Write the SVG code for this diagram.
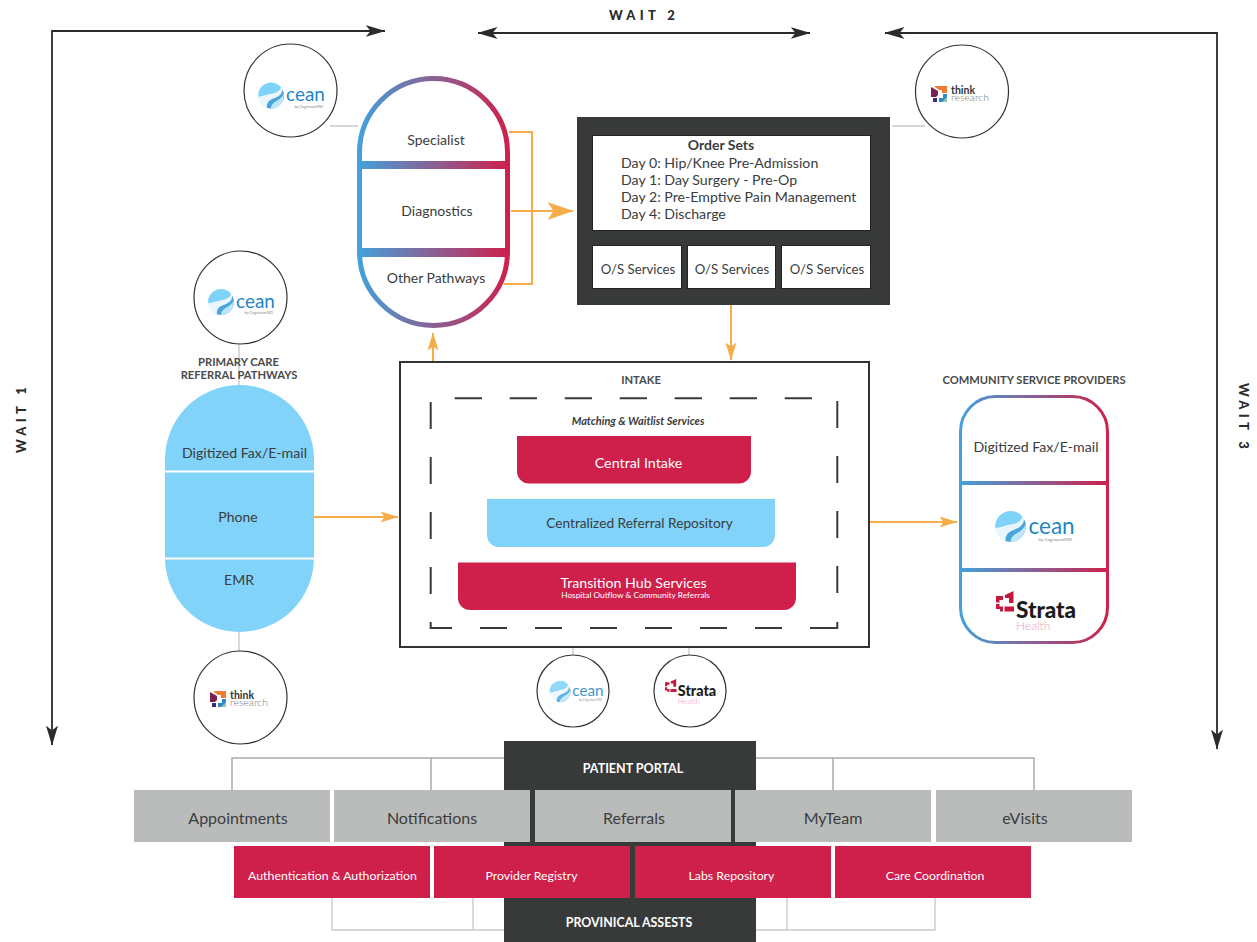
<svg xmlns="http://www.w3.org/2000/svg" xmlns:xlink="http://www.w3.org/1999/xlink" width="1257" height="942" viewBox="0 0 1257 942">
<style>
text{font-family:Lato,"Noto Sans","Liberation Sans",sans-serif;fill:#3a3c3d}
.m{text-anchor:middle}
.w{fill:#fff}
.b{font-weight:700}
.wt{font-weight:900;font-size:13px;letter-spacing:4.3px;fill:#2b2b2b}
.ho{font-weight:700;fill:#4a4a4a;font-size:11.2px}
.ring{fill:#fff;stroke:#333;stroke-width:1.2}
.or{fill:none;stroke:#f6ad47;stroke-width:2}
.blk{fill:none;stroke:#2b2b2b;stroke-width:1.8}
.gl{fill:none;stroke:#c9cbca;stroke-width:1.4}
.gd{fill:none;stroke:#a9abaa;stroke-width:1.5}
.dash{fill:none;stroke:#3a3a3a;stroke-width:2}
.svc{fill:#fff;stroke:#222;stroke-width:1}
.gray{fill:#babcbb}
.red{fill:#cf1f4b}
.dark{fill:#383a3a}
.sky{fill:#81d3f9}
</style>
<defs>
<linearGradient id="g1" gradientUnits="userSpaceOnUse" x1="357" y1="0" x2="510" y2="0"><stop offset="0" stop-color="#42a2dc"/><stop offset="1" stop-color="#d01f4b"/></linearGradient>
<linearGradient id="g2" gradientUnits="userSpaceOnUse" x1="959" y1="0" x2="1109" y2="0"><stop offset="0" stop-color="#42a2dc"/><stop offset="1" stop-color="#d01f4b"/></linearGradient>
<marker id="ao" viewBox="0 0 18 11" refX="17.5" refY="5.5" markerWidth="18" markerHeight="11" markerUnits="userSpaceOnUse" orient="auto"><path d="M0 0L18 5.500L0 11L4 5.500Z" fill="#f6ad47"/></marker>
<marker id="aob" viewBox="0 0 26 18" refX="25.5" refY="9" markerWidth="26" markerHeight="18" markerUnits="userSpaceOnUse" orient="auto"><path d="M0 0L26 9L0 18L6 9Z" fill="#f6ad47"/></marker>
<marker id="ak" viewBox="0 0 20 12" refX="19.5" refY="6" markerWidth="20" markerHeight="12" markerUnits="userSpaceOnUse" orient="auto"><path d="M0 0L20 6L0 12L5 6Z" fill="#2b2b2b"/></marker>
<marker id="aks" viewBox="0 0 20 12" refX="0.5" refY="6" markerWidth="20" markerHeight="12" markerUnits="userSpaceOnUse" orient="auto"><path d="M20 0L0 6L20 12L15 6Z" fill="#2b2b2b"/></marker>
<g id="ocean">
<circle r="15.5" fill="#eaf6fd"/>
<path d="M-15.4 1A15.5 15.5 0 0 1 12 -9.8C10 -4 5 -3 0 -2C-6 -1 -11 2 -15.4 1Z" fill="#7fd3f8"/>
<path d="M13.500 -7.500C13 0 7 2 2 4C-3 6 -5 9 -5 14.600A15.5 15.5 0 0 0 13.500 -7.500Z" fill="#4aa5dc"/>
<path d="M15 -3C14 4 6 6 3 9C1 11 0 13 0 15.500A15.5 15.5 0 0 0 15 -3Z" fill="#bde6fa"/>
<text x="18" y="7" font-size="22.500" style="fill:#1f86c6">cean</text>
<text x="28" y="14.500" font-size="4.600" style="fill:#888">by CognisantMD</text>
</g>
<g id="think">
<path d="M0 1L7 5V9L5 11H0Z" fill="#7a2255"/>
<path d="M3 0H16V7L11 7V4H8Z" fill="#ee7b30"/>
<path d="M16 8V16H8V12H12V8Z" fill="#2f89c9"/>
<path d="M2 12H6V16H2Z" fill="#3a2a7a"/>
<path d="M11 16H16V11Z" fill="#8fc7a8"/>
<text x="20" y="7.500" font-size="10.500" font-weight="700" style="fill:#333">think</text>
<text x="20" y="14.700" font-size="10.500" font-weight="300" style="fill:#77797a">research</text>
</g>
<g id="strata">
<path d="M9 4L17.500 0V12H13V7H9ZM0 5H7V9H3.500V11.500H0ZM0 13H3.500V15.500H7V20.500H4V18H0ZM8.500 15.500H18V20.500H8.500Z" fill="#c4183f"/>
<text x="20" y="27" font-size="22.500" font-weight="900" style="fill:#1c1c1c">Strata</text>
<text x="20" y="39" font-size="12" font-weight="300" style="fill:#ef9bb8">Health</text>
</g>
</defs>

<g id="connectors">
<path class="blk" d="M385 31H52V745" marker-end="url(#ak)"/>
<path class="blk" d="M365 31H385" marker-end="url(#ak)"/>
<path class="blk" d="M478 33H810" marker-start="url(#aks)" marker-end="url(#ak)"/>
<path class="blk" d="M885 33H1217V749" marker-end="url(#ak)"/>
<path class="blk" d="M905 33H885" marker-end="url(#ak)"/>
<path class="gl" d="M330 126H358M892 126H925M239 344V386M239 632V651M573 648V655M689 648V656"/>
<path class="or" d="M509 132H532V284H504"/>
<path class="or" d="M511 211H573" marker-end="url(#aob)"/>
<path class="or" d="M731 305V360" marker-end="url(#ao)"/>
<path class="or" d="M433 361V333" marker-end="url(#ao)"/>
<path class="or" d="M314 517H398" marker-end="url(#ao)"/>
<path class="or" d="M870 522H957" marker-end="url(#ao)"/>
<path class="gd" d="M232 790V758H504M431 758V790M756 758H1034V790M833 758V790"/>
<path class="gl" d="M332 898V930H504M473 898V930M756 930H935V898M787 898V930"/>
</g>

<g id="wait-labels">
<text x="644" y="20" class="m wt">WAIT 2</text>
<text transform="translate(26 418) rotate(-90)" class="m wt">WAIT 1</text>
<text transform="translate(1239 418) rotate(90)" class="m wt">WAIT 3</text>
</g>

<g id="logo-ocean-top"><circle class="ring" cx="290.500" cy="90.500" r="46.500"/><use xlink:href="#ocean" href="#ocean" transform="translate(271 95.500) scale(.84)"/></g>
<g id="logo-think-top"><circle class="ring" cx="962" cy="91.500" r="46.500"/><use xlink:href="#think" href="#think" transform="translate(931 86)"/></g>
<g id="logo-ocean-primary"><circle class="ring" cx="240.500" cy="297.500" r="46.500"/><use xlink:href="#ocean" href="#ocean" transform="translate(221 302) scale(.84)"/></g>
<g id="logo-think-primary"><circle class="ring" cx="240.500" cy="697.500" r="46.500"/><use xlink:href="#think" href="#think" transform="translate(210 691)"/></g>
<g id="logo-ocean-intake"><circle class="ring" cx="573" cy="691" r="36"/><use xlink:href="#ocean" href="#ocean" opacity=".85" transform="translate(560 691.500) scale(.68)"/></g>
<g id="logo-strata-intake"><circle class="ring" cx="690" cy="691" r="36"/><use xlink:href="#strata" href="#strata" transform="translate(665 679) scale(.64)"/></g>

<g id="pathways">
<rect x="359.500" y="78.500" width="148" height="247" rx="74" fill="#fff" stroke="url(#g1)" stroke-width="5"/>
<rect x="360" y="161" width="148" height="8" fill="url(#g1)"/>
<rect x="360" y="248" width="148" height="9" fill="url(#g1)"/>
<text x="436" y="145" class="m" font-size="14">Specialist</text>
<text x="437" y="216" class="m" font-size="14">Diagnostics</text>
<text x="436" y="283" class="m" font-size="14">Other Pathways</text>
</g>

<g id="order-sets">
<rect class="dark" x="577" y="117" width="313" height="188"/>
<rect class="svc" x="592.500" y="135.500" width="278" height="95"/>
<text x="721" y="150" class="m b" font-size="14">Order Sets</text>
<text x="621" y="168" font-size="14.150">Day 0: Hip/Knee Pre-Admission</text>
<text x="621" y="185" font-size="14.150">Day 1: Day Surgery - Pre-Op</text>
<text x="621" y="202" font-size="14.150">Day 2: Pre-Emptive Pain Management</text>
<text x="621" y="219" font-size="14.150">Day 4: Discharge</text>
<rect class="svc" x="592.500" y="245.500" width="89" height="43"/>
<rect class="svc" x="687.500" y="245.500" width="88" height="43"/>
<rect class="svc" x="781.500" y="245.500" width="89" height="43"/>
<text x="638" y="274" class="m" font-size="13.200">O/S Services</text>
<text x="732" y="274" class="m" font-size="13.200">O/S Services</text>
<text x="827" y="274" class="m" font-size="13.200">O/S Services</text>
</g>

<g id="primary-care">
<text x="238.500" y="366" class="m ho">PRIMARY CARE</text>
<text x="239" y="379" class="m ho">REFERRAL PATHWAYS</text>
<path class="sky" d="M165 459.500A74.500 74.500 0 0 1 314 459.500V470.500H165Z"/>
<rect class="sky" x="165" y="472.500" width="149" height="85"/>
<path class="sky" d="M165 559.500H314V557.500A74.500 74.500 0 0 1 165 557.500Z"/>
<text x="244.500" y="458" class="m" font-size="14.150">Digitized Fax/E-mail</text>
<text x="238" y="522" class="m" font-size="14">Phone</text>
<text x="239" y="585" class="m" font-size="14">EMR</text>
</g>

<g id="intake">
<rect x="400" y="362" width="469" height="285" fill="#fff" stroke="#333" stroke-width="2"/>
<text x="641" y="384" class="m ho">INTAKE</text>
<path class="dash" d="M454.700 398.300H482M509.700 398.300H537M564.700 398.300H592M619.700 398.300H647M674.700 398.300H702M729.700 398.300H757M784.700 398.300H812M430.700 402V429M430.700 457V484M430.700 512V539M430.700 567V594M837.300 401V428M837.300 456V483M837.300 511V538M837.300 566V593M430.700 622V628H452M480 628H507M535 628H562M590 628H617M645 628H672M700 628H727M755 628H782M810 628H837.300V622"/>
<text x="638" y="425" class="m" font-size="11" font-style="italic" font-weight="700">Matching &amp; Waitlist Services</text>
<path class="red" d="M517 436H751V471.500A12 12 0 0 1 739 483.500H529A12 12 0 0 1 517 471.500Z"/>
<text x="638.500" y="468" class="m w" font-size="14.300">Central Intake</text>
<path class="sky" d="M487 499H775V535A12 12 0 0 1 763 547H499A12 12 0 0 1 487 535Z"/>
<text x="639.500" y="528" class="m" font-size="13.700">Centralized Referral Repository</text>
<path class="red" d="M458 562.500H796V598A12 12 0 0 1 784 610H470A12 12 0 0 1 458 598Z"/>
<text x="633.500" y="588" class="m w" font-size="14.200">Transition Hub Services</text>
<text x="635.500" y="598" class="m w" font-size="8.300">Hospital Outflow &amp; Community Referrals</text>
</g>

<g id="community">
<text x="1034" y="384" class="m ho">COMMUNITY SERVICE PROVIDERS</text>
<rect x="960.500" y="396.500" width="147" height="246" rx="35" fill="#fff" stroke="url(#g2)" stroke-width="3"/>
<rect x="960" y="481" width="148" height="4" fill="url(#g2)"/>
<rect x="960" y="568" width="148" height="4" fill="url(#g2)"/>
<text x="1036" y="452" class="m" font-size="14.150">Digitized Fax/E-mail</text>
<use xlink:href="#ocean" href="#ocean" transform="translate(1010.500 526.500)"/>
<use xlink:href="#strata" href="#strata" transform="translate(996 591)"/>
</g>

<g id="portal-band">
<rect class="dark" x="504" y="741" width="252" height="201"/>
<text x="633" y="773" class="m b w" font-size="12.500">PATIENT PORTAL</text>
<text x="629" y="927" class="m b w" font-size="12.400">PROVINICAL ASSESTS</text>
</g>
<g id="apps">
<rect class="gray" x="134" y="790" width="196" height="52"/><text x="238" y="824" class="m" font-size="16">Appointments</text>
<rect class="gray" x="334" y="790" width="196" height="52"/><text x="432" y="824" class="m" font-size="16">Notifications</text>
<rect class="gray" x="535" y="790" width="196" height="52"/><text x="634" y="824" class="m" font-size="16">Referrals</text>
<rect class="gray" x="735" y="790" width="196" height="52"/><text x="833" y="824" class="m" font-size="16">MyTeam</text>
<rect class="gray" x="936" y="790" width="196" height="52"/><text x="1025" y="824" class="m" font-size="16">eVisits</text>
</g>
<g id="assets">
<rect class="red" x="234" y="846" width="196" height="52"/><text x="332.500" y="880" class="m w" font-size="12.300">Authentication &amp; Authorization</text>
<rect class="red" x="434" y="846" width="196" height="52"/><text x="531.500" y="880" class="m w" font-size="12.300">Provider Registry</text>
<rect class="red" x="635" y="846" width="196" height="52"/><text x="731.500" y="880" class="m w" font-size="12.300">Labs Repository</text>
<rect class="red" x="835" y="846" width="196" height="52"/><text x="935" y="880" class="m w" font-size="12.300">Care Coordination</text>
</g>
</svg>
